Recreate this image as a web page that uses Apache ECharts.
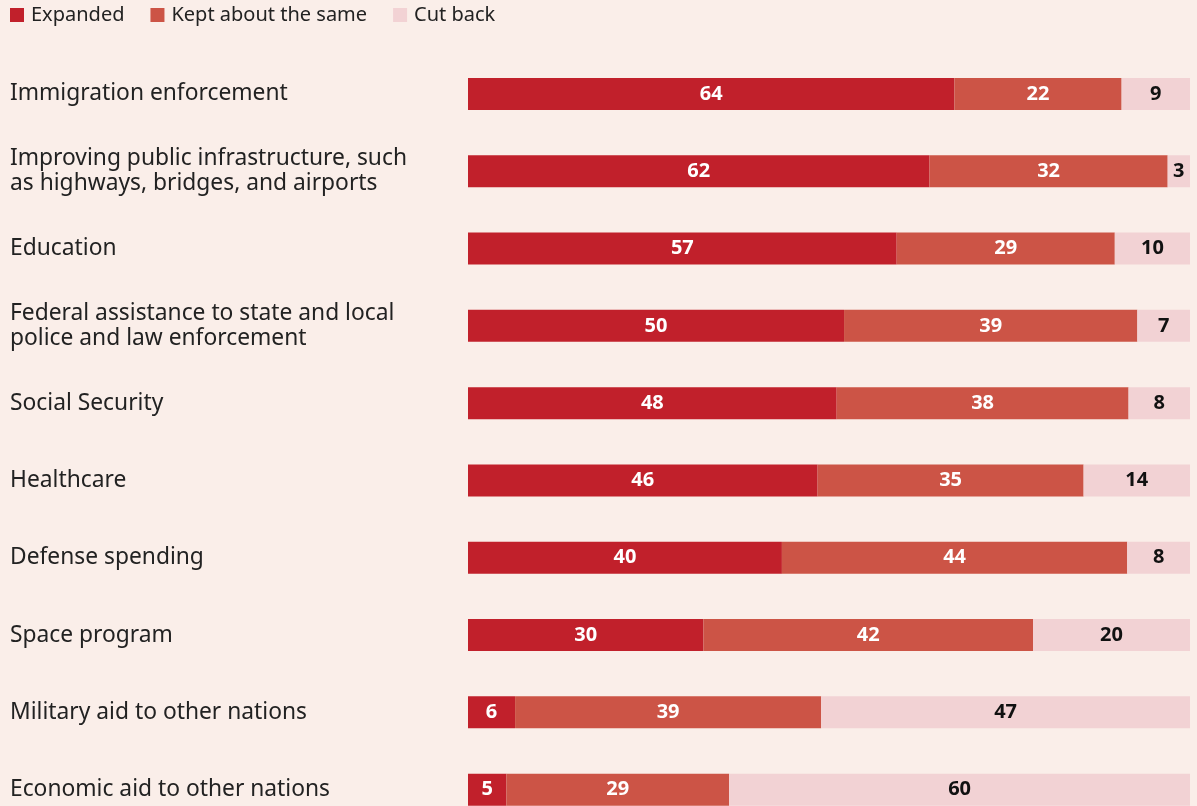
<!DOCTYPE html>
<html><head><meta charset="utf-8">
<script src="https://cdn.jsdelivr.net/npm/echarts@6/dist/echarts.min.js"></script>
<style>html,body{margin:0;padding:0;background:#FAEEE9;overflow:hidden;}#c{width:1197px;height:840px;}</style>
</head><body><div id="c"></div>
<script>
const categories = [
  "Immigration enforcement",
  "Improving public infrastructure, such\nas highways, bridges, and airports",
  "Education",
  "Federal assistance to state and local\npolice and law enforcement",
  "Social Security",
  "Healthcare",
  "Defense spending",
  "Space program",
  "Military aid to other nations",
  "Economic aid to other nations"
];
const expanded = [64, 62, 57, 50, 48, 46, 40, 30, 6, 5];
const keptSame = [22, 32, 29, 39, 38, 35, 44, 42, 39, 29];
const cutBack  = [9, 3, 10, 7, 8, 14, 8, 20, 47, 60];
const seriesNames = ["Expanded", "Kept about the same", "Cut back"];
const colors = ["#C1202B", "#CC5446", "#F2D2D4"];
const labelColors = ["#ffffff", "#ffffff", "#111111"];

const raw = [expanded, keptSame, cutBack];
const totals = categories.map((_, i) => raw.reduce((s, a) => s + a[i], 0));
const FONT = "'Noto Sans', sans-serif";

const chart = echarts.init(document.getElementById('c'));
chart.setOption({
  backgroundColor: '#FAEEE9',
  animation: false,
  color: colors,
  legend: {
    left: 10, top: 5, padding: 0,
    itemWidth: 14, itemHeight: 14, itemGap: 26,
    icon: 'rect',
    textStyle: { fontFamily: FONT, fontSize: 20, color: '#222', padding: [0, 0, 0, 2] },
    data: seriesNames
  },
  grid: { left: 468, top: 55.3, width: 722, height: 773, containLabel: false },
  xAxis: { type: 'value', min: 0, max: 100, show: false },
  yAxis: {
    type: 'category', inverse: true, data: categories,
    axisLine: { show: false }, axisTick: { show: false },
    axisLabel: {
      align: 'left', margin: 458, fontFamily: FONT, fontSize: 22.8,
      color: '#222', lineHeight: 25
    }
  },
  series: raw.map((arr, k) => ({
    name: seriesNames[k], type: 'bar', stack: 'total', barWidth: 32,
    itemStyle: { color: colors[k] },
    label: {
      show: true, position: 'inside', fontFamily: FONT, fontWeight: 'bold',
      fontSize: 20, color: labelColors[k],
      formatter: p => arr[p.dataIndex]
    },
    data: arr.map((v, i) => v / totals[i] * 100)
  }))
});
</script></body></html>
